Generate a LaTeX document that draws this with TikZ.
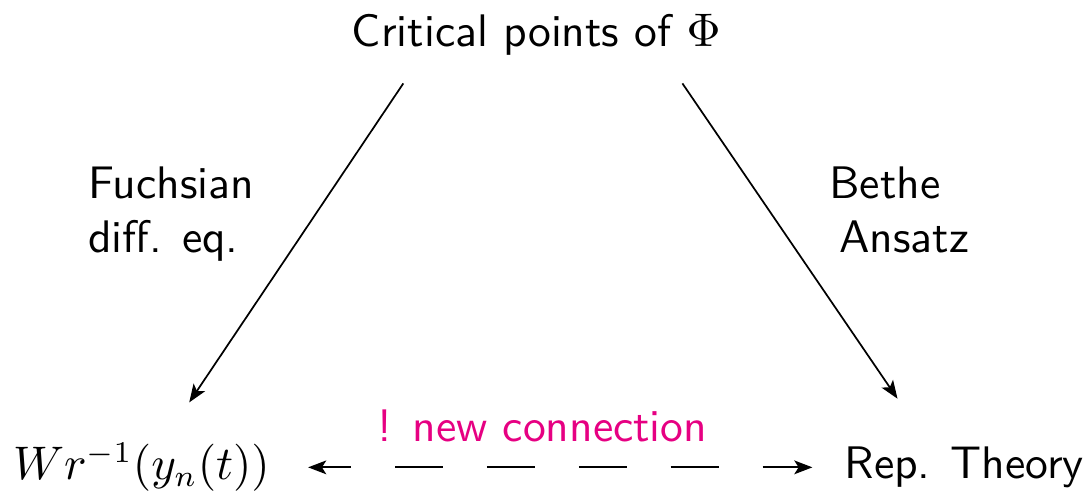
\documentclass[tikz,border=0pt]{standalone}
\usepackage{tikz}
\usetikzlibrary{arrows.meta,positioning,calc}
\definecolor{newpink}{RGB}{230,0,130}
\tikzset{term/.style={font=\fontsize{10.6pt}{12.9pt}\selectfont\sffamily,inner sep=3.3pt},
  side/.style={font=\fontsize{10.6pt}{12.6pt}\selectfont\sffamily,align=left,inner sep=3.3pt},
  flow/.style={-{Stealth[length=4.2pt,width=3.2pt,inset=1pt]}},
  link/.style={{Stealth[length=4.2pt,width=3.2pt,inset=1pt]}-{Stealth[length=4.2pt,width=3.2pt,inset=1pt]},
    dash pattern=on 0.392cm off 0.358cm, dash phase=0.148cm}}

\begin{document}
\begin{tikzpicture}[x=1cm, y=1cm]
\useasboundingbox (0,0) rectangle (8.9,4.02);
\node[term, anchor=base] (crit) at (4.379,3.644) {Critical points of $\Phi$};
\node[term, anchor=west] (wr) at (-0.016,0.204) {$Wr^{-1}(y_n(t))$};
\node[term, anchor=west] (rep) at (6.773,0.204) {Rep. Theory};
\node[side, anchor=base west] (fuchs) at (0.596,1.96) {Fuchsian\\diff. eq.};
\node[side, anchor=base west] (bethe) at (6.650,1.96) {Bethe\\\hspace{0.08cm}Ansatz};
\draw[flow] ($(crit.south)+(-1.086,-0.11)$) -- ($(wr.north)+(0.39,0.21)$);
\draw[flow] ($(crit.south)+(1.193,-0.11)$) -- ($(rep.north)+(-0.545,0.27)$);
\draw[link, shorten <=0.19cm, shorten >=0.14cm] (wr.east) -- (rep.west |- wr.east)
  node[midway, above=0.08cm, xshift=-0.12cm, term, text=newpink] (newc) {! new connection};
\end{tikzpicture}
\end{document}
